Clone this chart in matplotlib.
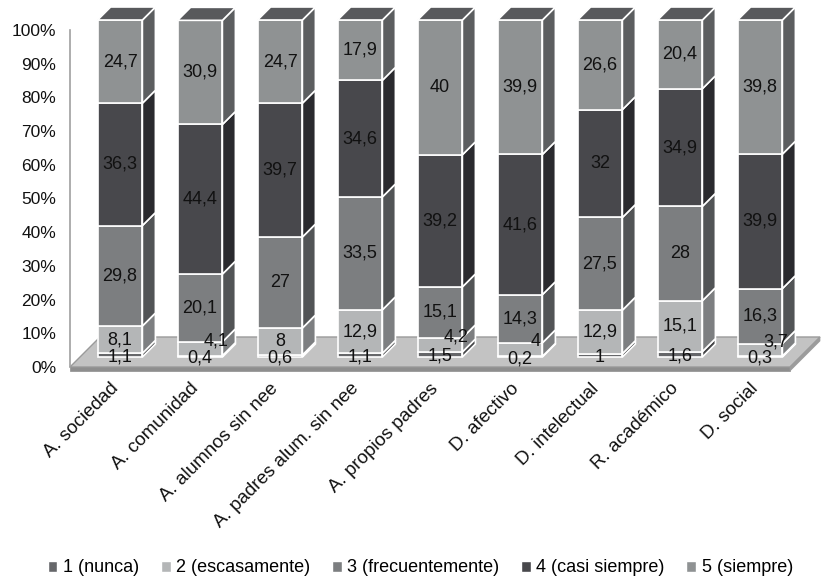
import matplotlib
matplotlib.use("Agg")
import matplotlib.pyplot as plt
from matplotlib import transforms
from matplotlib.patches import Polygon, Patch

# data (percent per answer option)
categories = ["A. sociedad", "A. comunidad", "A. alumnos sin nee",
              "A. padres alum. sin nee", "A. propios padres", "D. afectivo",
              "D. intelectual", "R. académico", "D. social"]
nunca = [1.1, 0.4, 0.6, 1.1, 1.5, 0.2, 1, 1.6, 0.3]
escasamente = [8.1, 4.1, 8, 12.9, 4.2, 4, 12.9, 15.1, 3.7]
frecuentemente = [29.8, 20.1, 27, 33.5, 15.1, 14.3, 27.5, 28, 16.3]
casi_siempre = [36.3, 44.4, 39.7, 34.6, 39.2, 41.6, 32, 34.9, 39.9]
siempre = [24.7, 30.9, 24.7, 17.9, 40, 39.9, 26.6, 20.4, 39.8]
series_names = ["1 (nunca)", "2 (escasamente)", "3 (frecuentemente)",
                "4 (casi siempre)", "5 (siempre)"]

series = [nunca, escasamente, frecuentemente, casi_siempre, siempre]
front_colors = ["#66676a", "#b4b6b7", "#7c7e80", "#48484c", "#8f9293"]
side_colors = ["#444547", "#7d7f81", "#525456", "#2a2a2e", "#5c5e60"]
top_color = "#58595c"

plt.rcParams['font.family'] = ['Liberation Sans', 'DejaVu Sans']

fig = plt.figure(figsize=(8.24, 5.8), dpi=100)
ax = fig.add_axes([70 / 824, 213 / 580, 720 / 824, 337 / 580])
ax.set_xlim(-0.5, 8.5)
ax.set_ylim(0, 100)

# fake 3d: bars sit a bit behind the front plane, with some depth
shift = 10   # px
depth = 13   # px
floor_depth = 30
bar_tf = ax.transData + transforms.Affine2D().translate(shift, shift)
px = transforms.IdentityTransform()

# floor
x0, y0 = ax.transData.transform((-0.5, 0))
x1, _ = ax.transData.transform((8.5, 0))
ax.add_patch(Polygon([(x0, y0), (x1, y0), (x1 + floor_depth, y0 + floor_depth),
                      (x0 + floor_depth, y0 + floor_depth)], closed=True,
                     transform=px, facecolor="#c3c3c3", edgecolor="#9a9a9a",
                     lw=1, clip_on=False, zorder=0.5))
ax.add_patch(Polygon([(x0, y0 - 4), (x1, y0 - 4), (x1, y0), (x0, y0)], closed=True,
                     transform=px, facecolor="#8e8e8e", edgecolor="#8e8e8e",
                     lw=0.5, clip_on=False, zorder=0.5))
ax.add_patch(Polygon([(x1, y0 - 4), (x1 + floor_depth, y0 + floor_depth - 4),
                      (x1 + floor_depth, y0 + floor_depth), (x1, y0)], closed=True,
                     transform=px, facecolor="#9c9c9c", edgecolor="#9c9c9c",
                     lw=0.5, clip_on=False, zorder=0.5))

x = list(range(len(categories)))
bottom = [0.0] * len(categories)
for k, vals in enumerate(series):
    bars = ax.bar(x, vals, width=0.56, bottom=bottom, color=front_colors[k],
                  edgecolor="white", linewidth=1.2, transform=bar_tf,
                  clip_on=False, zorder=2)
    for i, r in enumerate(bars):
        (xl, yb) = bar_tf.transform((r.get_x(), r.get_y()))
        (xr, yt) = bar_tf.transform((r.get_x() + r.get_width(), r.get_y() + r.get_height()))
        ax.add_patch(Polygon([(xr, yb), (xr, yt), (xr + depth, yt + depth),
                              (xr + depth, yb + depth)], closed=True, transform=px,
                             facecolor=side_colors[k], edgecolor="white", lw=1.2,
                             clip_on=False, zorder=2))
        if k == len(series) - 1:
            ax.add_patch(Polygon([(xl, yt), (xr, yt), (xr + depth, yt + depth),
                                  (xl + depth, yt + depth)], closed=True, transform=px,
                                 facecolor=top_color, edgecolor="white", lw=1.2,
                                 clip_on=False, zorder=2))
        # small labels get nudged like the original did
        nx, ny = 0, 0
        if k == 0:
            ny = -2
        elif k == 1 and vals[i] < 5:
            nx, ny = 16, 8
        lt = bar_tf + transforms.Affine2D().translate(nx, ny)
        txt = f"{vals[i]:g}".replace(".", ",")
        ax.text(i, bottom[i] + vals[i] / 2, txt, transform=lt, ha="center",
                va="center", fontsize=13, color="#111111", zorder=3)
    bottom = [b + v for b, v in zip(bottom, vals)]

# axes styling
for s in ["top", "right", "bottom"]:
    ax.spines[s].set_visible(False)
ax.spines["left"].set_color("#a0a0a0")
ax.spines["left"].set_linewidth(1.2)
ax.set_yticks(range(0, 101, 10))
ax.set_yticklabels([f"{v}%" for v in range(0, 101, 10)], fontsize=12.5, color="#111111")
ax.tick_params(axis="y", length=0, pad=10)
ax.set_xticks([])

# category labels, rotated
lab_tf = ax.transData + transforms.Affine2D().translate(6, -19)
for i, c in enumerate(categories):
    ax.text(i, 0, c, transform=lab_tf, rotation=45, rotation_mode="anchor",
            ha="right", va="center", fontsize=13.5, color="#111111")

handles = [Patch(facecolor=c, edgecolor="white") for c in front_colors]
fig.legend(handles, series_names, loc="center", bbox_to_anchor=(0.51, 12 / 580),
           ncol=5, frameon=False, handlelength=0.55, handleheight=0.55,
           handletextpad=0.3, columnspacing=1.2, fontsize=13)

fig.savefig("out.png", dpi=100)
